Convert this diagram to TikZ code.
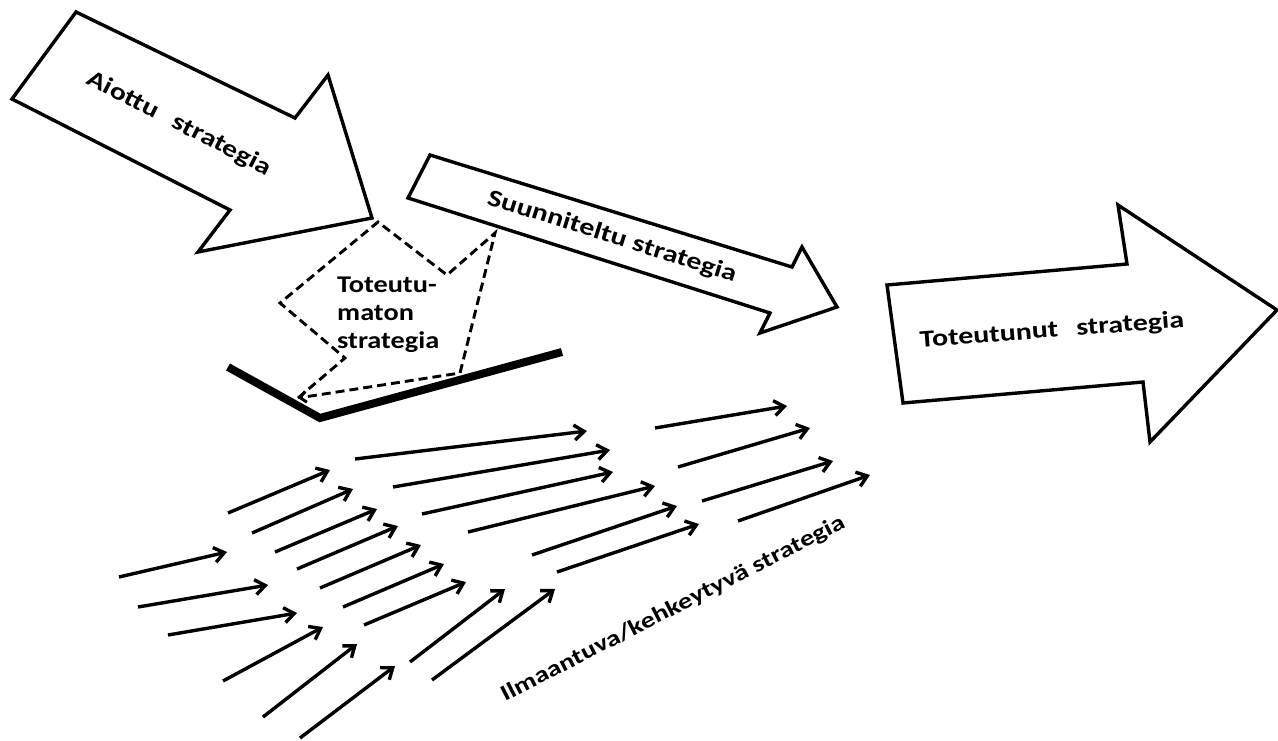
\documentclass[tikz,border=0pt]{standalone}
\usepackage{fontspec}
\setmainfont{Carlito}
\usetikzlibrary{arrows.meta}
\begin{document}
\begin{tikzpicture}[x=1pt,y=-1pt,
  block/.style={draw=black, line width=3.4pt, line join=miter, fill=white},
  flow/.style={line width=3.4pt, -{Straight Barb[length=10pt,width=15pt]}},
  lbl/.style={font=\bfseries\fontsize{24}{28}\selectfont, inner sep=0pt},
]
\useasboundingbox (0,0) rectangle (1278,740);

% intended strategy (large arrow, upper left)
\draw[block] (76,12) -- (295,118) -- (328,75) -- (372,218) -- (198,252)
  -- (230,210) -- (12,99) -- cycle;
\node[lbl, rotate=-27, xscale=1.25] (aiottu) at (179,124) {Aiottu\hspace{0.6em}strategia};

% planned strategy (slim arrow)
\draw[block] (430,155) -- (792,267) -- (802,247) -- (837,307) -- (760,333)
  -- (770,313) -- (408,198) -- cycle;
\node[lbl, rotate=-17.5, xscale=1.25] (suunniteltu) at (612,237) {Suunniteltu strategia};

% realised strategy (large arrow, right)
\draw[block] (887,285) -- (1127,264) -- (1118,205) -- (1277,310) -- (1150,442)
  -- (1143,382) -- (903,403) -- cycle;
\node[lbl, rotate=4.4, xscale=1.25] (toteutunut) at (1052,331) {Toteutunut\hspace{0.6em}strategia};

% unrealised strategy (dashed arrow)
\draw[line width=2.9pt, dash pattern=on 9pt off 5pt, -{Straight Barb[length=6pt,width=11pt]}]
  (298,398) -- (345,358) -- (280,303) -- (378,222) -- (447,275) -- (495,233)
  -- (460,373) -- (298,398);
\node[lbl, align=left, anchor=north west, xscale=1.18] (toteutumaton) at (337,277)
  {Toteutu-\\maton\\strategia};

% barrier line
\draw[line width=8pt, line join=miter] (228,367) -- (320,418) -- (562,352);

% emergent strategy flows
\foreach \ax/\ay/\bx/\by in {
  228/513/330/470, 252/533/353/489, 275/552/377/509, 297/569/398/526,
  320/588/421/545, 343/607/444/564, 364/625/466/582,
  119/577/227/552, 138/607/268/585, 168/635/297/613,
  223/681/323/627, 263/717/357/644, 300/738/395/666,
  410/662/505/589, 432/680/555/589,
  355/459/587/431, 393/487/610/450, 422/514/613/472,
  468/532/655/486, 532/555/677/506, 557/572/699/524,
  655/428/787/406, 678/467/810/428, 702/501/833/461, 738/521/870/475}
  \draw[flow] (\ax,\ay) -- (\bx,\by);

\node[lbl, font=\bfseries\fontsize{22.5}{27}\selectfont, rotate=27.1, xscale=1.25] (ilmaantuva) at (673,609)
  {Ilmaantuva/kehkeytyvä strategia};
\end{tikzpicture}
\end{document}
